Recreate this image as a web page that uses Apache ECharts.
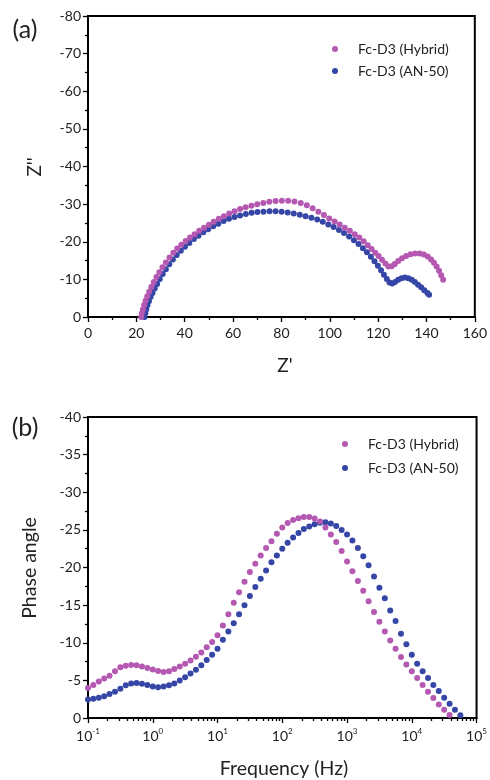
<!DOCTYPE html>
<html>
<head>
<meta charset="utf-8">
<script src="https://cdn.jsdelivr.net/npm/echarts@6/dist/echarts.min.js"></script>
<style>
html,body{margin:0;padding:0;background:#fff;}
#chart{width:490px;height:780px;}
</style>
</head>
<body>
<div id="chart"></div>
<script>
// ---------- (a) Nyquist data ----------
const hybridZre = [22.0,22.3,22.7,23.2,23.8,24.5,25.3,26.2,27.2,28.3,29.5,30.8,32.2,33.7,35.3,36.9,38.6,40.4,42.2,44.1,46.0,48.0,50.0,52.0,54.1,56.2,58.4,60.6,62.9,65.2,67.6,70.0,72.5,75.0,77.6,80.2,82.8,85.4,88.0,90.5,92.9,95.3,97.6,99.8,102.0,104.1,106.2,108.3,110.3,112.2,114.0,115.7,117.3,118.8,120.2,121.6,123.0,124.3,125.6,126.9,128.3,129.9,131.6,133.4,135.3,137.2,138.9,140.5,141.9,143.1,144.2,145.2,146.1,146.9];
const hybridZim = [0,-1.0,-2.0,-3.2,-4.3,-5.5,-6.7,-8.0,-9.3,-10.6,-11.9,-13.2,-14.5,-15.8,-17.1,-18.2,-19.2,-20.2,-21.1,-22.0,-22.9,-23.7,-24.5,-25.3,-26.1,-26.8,-27.5,-28.1,-28.7,-29.2,-29.6,-30.0,-30.3,-30.6,-30.8,-30.9,-30.9,-30.7,-30.3,-29.7,-28.9,-28.0,-27.1,-26.2,-25.4,-24.6,-23.7,-22.9,-22.0,-21.1,-20.1,-19.1,-18.1,-17.1,-16.2,-15.2,-14.2,-13.4,-13.5,-14.1,-14.9,-15.6,-16.2,-16.7,-16.9,-16.9,-16.6,-16.1,-15.3,-14.4,-13.4,-12.3,-11.1,-9.9];
const an50Zre = [23.4,23.7,24.1,24.6,25.2,25.9,26.7,27.6,28.6,29.7,30.9,32.2,33.6,35.1,36.7,38.4,40.1,41.9,43.8,45.7,47.7,49.7,51.8,53.9,56.1,58.3,60.6,62.9,65.3,67.7,70.1,72.6,75.1,77.6,80.1,82.6,85.1,87.6,90.0,92.4,94.8,97.1,99.4,101.6,103.8,105.9,108.0,110.0,111.9,113.7,115.4,117.0,118.5,119.9,121.2,122.4,123.6,124.7,125.8,127.0,128.3,129.7,131.1,132.5,133.9,135.2,136.5,137.8,139.1,140.4,141.1];
const an50Zim = [0,-1.0,-2.0,-3.1,-4.2,-5.3,-6.4,-7.6,-8.8,-10.1,-11.4,-12.7,-14.0,-15.3,-16.5,-17.6,-18.7,-19.7,-20.7,-21.6,-22.5,-23.3,-24.1,-24.8,-25.5,-26.1,-26.6,-27.0,-27.4,-27.7,-27.9,-28.0,-28.1,-28.1,-28.0,-27.8,-27.5,-27.2,-26.8,-26.4,-25.9,-25.3,-24.6,-23.9,-23.1,-22.3,-21.4,-20.4,-19.4,-18.3,-17.2,-16.0,-14.8,-13.6,-12.4,-11.2,-10.1,-9.2,-8.9,-9.3,-9.9,-10.3,-10.5,-10.3,-9.9,-9.3,-8.6,-7.9,-7.1,-6.4,-5.9];

// ---------- (b) Bode phase data ----------
const freq = [0.1,0.121,0.147,0.178,0.215,0.261,0.316,0.383,0.464,0.562,0.681,0.825,
  1,1.21,1.47,1.78,2.15,2.61,3.16,3.83,4.64,5.62,6.81,8.25,
  10,12.1,14.7,17.8,21.5,26.1,31.6,38.3,46.4,56.2,68.1,82.5,
  100,121,147,178,215,261,316,383,464,562,681,825,
  1000,1210,1470,1780,2150,2610,3160,3830,4640,5620,6810,8250,
  10000,12100,14700,17800,21500,26100,31600,38300,46400,56200,68100];
const hybridPhase = [-4.0,-4.4,-4.85,-5.25,-5.6,-6.2,-6.75,-6.95,-7.05,-7.0,-6.85,-6.65,
  -6.45,-6.25,-6.1,-6.2,-6.5,-6.85,-7.2,-7.65,-8.15,-8.7,-9.4,-10.1,
  -11.0,-12.3,-13.8,-15.3,-16.7,-18.1,-19.4,-20.5,-21.6,-22.6,-23.5,-24.5,
  -25.3,-25.9,-26.3,-26.55,-26.7,-26.7,-26.5,-26.1,-25.3,-24.4,-23.4,-22.2,
  -20.8,-19.5,-18.2,-16.9,-15.5,-14.1,-12.8,-11.5,-10.3,-9.2,-8.1,-7.1,
  -6.2,-5.3,-4.4,-3.5,-2.65,-1.8,-1.1,-0.4];
const an50Phase = [-2.45,-2.55,-2.7,-2.9,-3.2,-3.5,-3.9,-4.35,-4.6,-4.65,-4.55,-4.4,
  -4.2,-4.1,-4.2,-4.35,-4.6,-5.0,-5.4,-5.9,-6.4,-7.0,-7.7,-8.4,
  -9.2,-10.4,-11.5,-12.6,-13.8,-15.0,-16.2,-17.4,-18.5,-19.6,-20.7,-21.6,
  -22.5,-23.3,-24.0,-24.6,-25.1,-25.45,-25.75,-25.95,-26.0,-25.85,-25.5,-25.0,
  -24.4,-23.6,-22.6,-21.5,-20.3,-18.8,-17.3,-15.9,-14.3,-12.9,-11.2,-9.8,
  -8.4,-7.2,-6.2,-5.3,-4.4,-3.6,-2.7,-1.9,-1.1,-0.35];

const seriesNames = ['Fc-D3 (Hybrid)', 'Fc-D3 (AN-50)'];
const xTicksA = [0, 160, 20];
const yTicksA = [-80, 0, 10];
const yTicksB = [-40, 0, 5];
const decadeExp = [-1, 5];

const PINK = '#B458B2', BLUE = '#3646A6';
const FONT = 'Lato';
const TXT = '#222';

function zip(a, b) { return b.map((v, i) => [a[i], v]); }

// minor tick positions on log10 overlay axis (2..9 within each decade)
const minorPos = [];
for (let d = decadeExp[0]; d < decadeExp[1]; d++) {
  for (let k = 2; k <= 9; k++) minorPos.push(d + Math.log10(k));
}

const axisLineStyle = {show: true, onZero: false, lineStyle: {color: '#000', width: 2}};
const tickStyle = {show: true, inside: false, length: 5, lineStyle: {color: '#000', width: 1.3}};
const minorStyle = {show: true, splitNumber: 2, length: 3, lineStyle: {color: '#000', width: 1.3}};
const labelStyle = {color: TXT, fontFamily: FONT, fontSize: 14};
const dot = c => ({color: c, opacity: 1});

const chart = echarts.init(document.getElementById('chart'), null, {renderer: 'canvas'});
const option = {
  animation: false,
  backgroundColor: '#fff',
  grid: [
    {left: 88, top: 16, width: 393, height: 301, show: true, borderColor: '#000', borderWidth: 2},
    {left: 88, top: 417, width: 393, height: 301, show: true, borderColor: '#000', borderWidth: 2}
  ],
  xAxis: [
    {gridIndex: 0, type: 'value', position: 'bottom', min: xTicksA[0], max: xTicksA[1], interval: xTicksA[2],
     axisLine: axisLineStyle, axisTick: tickStyle, minorTick: minorStyle,
     axisLabel: Object.assign({margin: 9}, labelStyle), splitLine: {show: false}},
    {gridIndex: 1, type: 'log', logBase: 10, min: 0.1, max: 100000, show: false},
    {gridIndex: 1, type: 'value', position: 'bottom', min: decadeExp[0], max: decadeExp[1], interval: 1,
     axisLine: axisLineStyle, axisTick: tickStyle,
     axisLabel: {margin: 9, formatter: v => '{b|10}{s|' + Math.round(v) + '}',
       rich: {b: {fontFamily: FONT, fontSize: 14, color: TXT, lineHeight: 18},
              s: {fontFamily: FONT, fontSize: 8, color: TXT, verticalAlign: 'top', lineHeight: 10}}},
     splitLine: {show: false}},
    {gridIndex: 1, type: 'value', position: 'bottom', min: decadeExp[0], max: decadeExp[1],
     axisLine: {show: false, onZero: false}, axisLabel: {show: false}, splitLine: {show: false},
     axisTick: {show: true, inside: false, length: 3, customValues: minorPos, lineStyle: {color: '#000', width: 1.3}}}
  ],
  yAxis: [
    {gridIndex: 0, type: 'value', inverse: true, min: yTicksA[0], max: yTicksA[1], interval: yTicksA[2],
     axisLine: axisLineStyle, axisTick: tickStyle, minorTick: minorStyle,
     axisLabel: Object.assign({margin: 7}, labelStyle), splitLine: {show: false}},
    {gridIndex: 1, type: 'value', inverse: true, min: yTicksB[0], max: yTicksB[1], interval: yTicksB[2],
     axisLine: axisLineStyle, axisTick: tickStyle, minorTick: minorStyle,
     axisLabel: Object.assign({margin: 7}, labelStyle), splitLine: {show: false}}
  ],
  legend: [
    {data: seriesNames, orient: 'vertical', left: 327, top: 36, itemWidth: 36, itemHeight: 6, itemGap: 6,
     icon: 'circle', selectedMode: false, textStyle: {fontFamily: FONT, fontSize: 14, color: TXT, lineHeight: 16}},
    {data: seriesNames, orient: 'vertical', left: 337, top: 431, itemWidth: 36, itemHeight: 6, itemGap: 8,
     icon: 'circle', selectedMode: false, textStyle: {fontFamily: FONT, fontSize: 14, color: TXT, lineHeight: 16}}
  ],
  series: [
    {name: seriesNames[1], type: 'scatter', xAxisIndex: 0, yAxisIndex: 0, symbolSize: 6,
     itemStyle: dot(BLUE), data: zip(an50Zre, an50Zim)},
    {name: seriesNames[0], type: 'scatter', xAxisIndex: 0, yAxisIndex: 0, symbolSize: 6,
     itemStyle: dot(PINK), data: zip(hybridZre, hybridZim)},
    {name: seriesNames[1], type: 'scatter', xAxisIndex: 1, yAxisIndex: 1, symbolSize: 6,
     itemStyle: dot(BLUE), data: zip(freq, an50Phase)},
    {name: seriesNames[0], type: 'scatter', xAxisIndex: 1, yAxisIndex: 1, symbolSize: 6,
     itemStyle: dot(PINK), data: zip(freq, hybridPhase)}
  ],
  graphic: [
    {type: 'text', x: 25, y: 30, style: {text: '(a)', fontFamily: FONT, fontSize: 25, fill: TXT, align: 'center', verticalAlign: 'middle'}},
    {type: 'text', x: 35, y: 167, rotation: Math.PI / 2, style: {text: "Z''", fontFamily: FONT, fontSize: 19, fill: TXT, align: 'center', verticalAlign: 'middle'}},
    {type: 'text', x: 285, y: 366, style: {text: "Z'", fontFamily: FONT, fontSize: 19, fill: TXT, align: 'center', verticalAlign: 'middle'}},
    {type: 'text', x: 25, y: 428, style: {text: '(b)', fontFamily: FONT, fontSize: 25, fill: TXT, align: 'center', verticalAlign: 'middle'}},
    {type: 'text', x: 30, y: 568, rotation: Math.PI / 2, style: {text: 'Phase angle', fontFamily: FONT, fontSize: 19.5, fill: TXT, align: 'center', verticalAlign: 'middle'}},
    {type: 'text', x: 284, y: 769, style: {text: 'Frequency (Hz)', fontFamily: FONT, fontSize: 19.5, fill: TXT, align: 'center', verticalAlign: 'middle'}}
  ]
};
chart.setOption(option);
</script>
</body>
</html>
